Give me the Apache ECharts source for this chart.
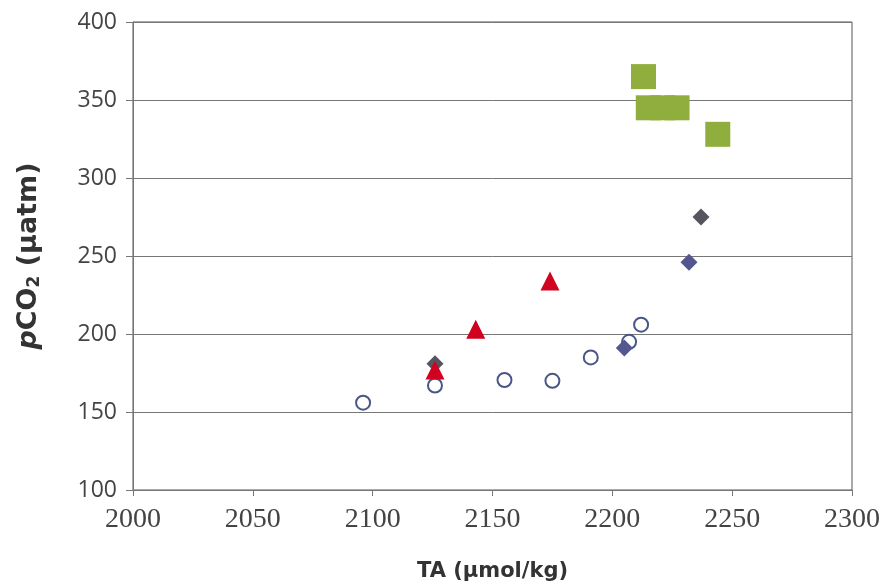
<!DOCTYPE html>
<html>
<head>
<meta charset="utf-8">
<script src="https://cdn.jsdelivr.net/npm/echarts@6/dist/echarts.min.js"></script>
<style>
  html, body { margin: 0; padding: 0; background: #fff; }
  #chart { width: 887px; height: 587px; }
</style>
</head>
<body>
<div id="chart"></div>
<script>
// open circles
const circlePoints = [[2096, 156], [2126, 167], [2155, 170.5], [2175, 170], [2191, 185], [2207, 195], [2212, 206]]
// blue diamonds
const blueDiamonds = [[2205, 191], [2232, 246]]
// grey diamonds
const greyDiamonds = [[2126, 181], [2237, 275]]
// red triangles
const redTriangles = [[2126, 177], [2143, 203], [2174, 234]]
// green squares
const greenSquares = [[2213, 365], [2215, 345], [2221, 345], [2227, 345], [2244, 328]]

const xTicks = { min: 2000, max: 2300, step: 50 }
const yTicks = { min: 100, max: 400, step: 50 }

const myChart = echarts.init(document.getElementById('chart'))

const options = {
    animation: false,
    grid: {
        left: 133,
        right: 35,
        top: 22,
        bottom: 97,
        show: true,
        borderColor: '#555',
        borderWidth: 1
    },
    xAxis: {
        type: 'value',
        min: xTicks.min,
        max: xTicks.max,
        interval: xTicks.step,
        name: 'TA (µmol/kg)',
        nameLocation: 'middle',
        nameGap: 71,
        nameTextStyle: {
            fontFamily: 'DejaVu Sans',
            fontWeight: 'bold',
            fontSize: 21,
            color: '#333'
        },
        axisLine: { lineStyle: { color: '#777' } },
        axisTick: { show: true, inside: false, length: 6, lineStyle: { color: '#777' } },
        axisLabel: {
            margin: 16,
            fontFamily: 'Liberation Serif',
            fontSize: 28,
            color: '#444',
            formatter: v => String(v)
        },
        splitLine: { show: false }
    },
    yAxis: {
        type: 'value',
        min: yTicks.min,
        max: yTicks.max,
        interval: yTicks.step,
        name: '{i|p}CO{s|2} (µatm)',
        nameLocation: 'middle',
        nameGap: 90,
        nameTextStyle: {
            fontFamily: 'DejaVu Sans',
            fontWeight: 'bold',
            fontSize: 27,
            color: '#333',
            rich: {
                i: { fontFamily: 'DejaVu Sans', fontStyle: 'italic', fontWeight: 'bold', fontSize: 27, color: '#333' },
                s: { fontFamily: 'DejaVu Sans', fontWeight: 'bold', fontSize: 17, color: '#333', padding: [12, 0, 0, 0] }
            }
        },
        axisLine: { show: true, lineStyle: { color: '#777' } },
        axisTick: { show: true, inside: false, length: 7, lineStyle: { color: '#777' } },
        axisLabel: {
            margin: 16,
            fontFamily: 'Open Sans',
            fontSize: 23,
            color: '#444'
        },
        splitLine: { show: true, lineStyle: { color: '#777', width: 1 } }
    },
    series: [
        {
            type: 'scatter',
            data: circlePoints,
            symbol: 'circle',
            symbolSize: 14,
            itemStyle: { color: '#fff', borderColor: '#4a5688', borderWidth: 2, opacity: 1 }
        },
        {
            type: 'scatter',
            data: greyDiamonds,
            symbol: 'diamond',
            symbolSize: 17,
            itemStyle: { color: '#55555f', opacity: 1 }
        },
        {
            type: 'scatter',
            data: blueDiamonds,
            symbol: 'diamond',
            symbolSize: 17,
            itemStyle: { color: '#54568f', opacity: 1 }
        },
        {
            type: 'scatter',
            data: redTriangles,
            symbol: 'triangle',
            symbolSize: 19,
            itemStyle: { color: '#d0021f', opacity: 1 }
        },
        {
            type: 'scatter',
            data: greenSquares,
            symbol: 'rect',
            symbolSize: 25,
            itemStyle: { color: '#8fae3e', opacity: 1 }
        }
    ]
}

myChart.setOption(options)
</script>
</body>
</html>
